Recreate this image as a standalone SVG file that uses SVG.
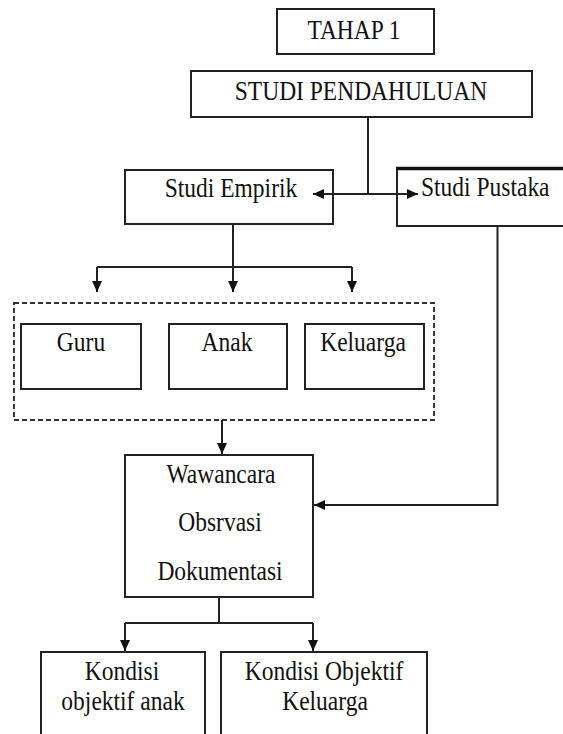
<svg xmlns="http://www.w3.org/2000/svg" width="563" height="734" viewBox="0 0 563 734">
<style>
.box{fill:#fff;stroke:#222;stroke-width:2}
.dash{fill:none;stroke:#333;stroke-width:2;stroke-dasharray:5 3}
.ln{fill:none;stroke:#222;stroke-width:2}
text{font-family:'Liberation Serif','Times New Roman',serif;font-size:23.5px;fill:#111;text-anchor:middle}
.ts{text-anchor:start}
</style>
<defs>
<marker id="ah" markerUnits="userSpaceOnUse" markerWidth="12" markerHeight="10" refX="11" refY="5" orient="auto">
<path d="M0,0 L11,5 L0,10 z" fill="#111"/>
</marker>
</defs>
<rect width="563" height="734" fill="#fff"/>
<g id="tahap1">
<rect class="box" x="277" y="9" width="157" height="45"/>
<g transform="translate(354,38.5) scale(1,1.15)"><text>TAHAP 1</text></g>
</g>
<g id="studi-pendahuluan">
<rect class="box" x="191" y="71" width="341" height="46"/>
<g transform="translate(361,100) scale(1,1.15)"><text>STUDI PENDAHULUAN</text></g>
</g>
<g id="studi-empirik">
<rect class="box" x="125" y="170" width="208" height="54"/>
<g transform="translate(231,196.5) scale(1,1.15)"><text>Studi Empirik</text></g>
</g>
<g id="studi-pustaka">
<rect class="box" x="397" y="168.5" width="180" height="57.5"/>
<line x1="396" y1="168.5" x2="563" y2="168.5" stroke="#111" stroke-width="3.5"/>
<g transform="translate(421,196) scale(1,1.15)"><text class="ts">Studi Pustaka</text></g>
</g>
<g id="group-sumber">
<rect class="dash" x="14" y="303" width="420" height="117"/>
</g>
<g id="guru">
<rect class="box" x="21" y="324" width="120" height="65"/>
<g transform="translate(81,351) scale(1,1.15)"><text>Guru</text></g>
</g>
<g id="anak">
<rect class="box" x="169" y="324" width="118" height="65"/>
<g transform="translate(227,351) scale(1,1.15)"><text>Anak</text></g>
</g>
<g id="keluarga">
<rect class="box" x="305" y="324" width="119" height="65"/>
<g transform="translate(363,351) scale(1,1.15)"><text>Keluarga</text></g>
</g>
<g id="metode">
<rect class="box" x="125" y="455" width="188" height="142"/>
<g transform="translate(221,483) scale(1,1.15)"><text>Wawancara</text></g>
<g transform="translate(220,531) scale(1,1.15)"><text>Obsrvasi</text></g>
<g transform="translate(220,580) scale(1,1.15)"><text>Dokumentasi</text></g>
</g>
<g id="kondisi-anak">
<rect class="box" x="41" y="652" width="164" height="100"/>
<g transform="translate(122,680) scale(1,1.15)"><text>Kondisi</text></g>
<g transform="translate(123,710) scale(1,1.15)"><text>objektif anak</text></g>
</g>
<g id="kondisi-keluarga">
<rect class="box" x="221" y="652" width="206" height="100"/>
<g transform="translate(324,680) scale(1,1.15)"><text>Kondisi Objektif</text></g>
<g transform="translate(325,710) scale(1,1.15)"><text>Keluarga</text></g>
</g>
<g id="connectors">
<path class="ln" d="M368,117 V194"/>
<path class="ln" d="M368,194 H313" marker-end="url(#ah)"/>
<path class="ln" d="M368,194 H418" marker-end="url(#ah)"/>
<path class="ln" d="M233,224 V267"/>
<path class="ln" d="M97,267 H352"/>
<path class="ln" d="M97,267 V292" marker-end="url(#ah)"/>
<path class="ln" d="M233,267 V292" marker-end="url(#ah)"/>
<path class="ln" d="M352,267 V292" marker-end="url(#ah)"/>
<path class="ln" d="M222,420 V454" marker-end="url(#ah)"/>
<path class="ln" d="M497.5,226 V505 H314" marker-end="url(#ah)"/>
<path class="ln" d="M219,597 V623"/>
<path class="ln" d="M125,623 H313"/>
<path class="ln" d="M125,623 V651" marker-end="url(#ah)"/>
<path class="ln" d="M313,623 V651" marker-end="url(#ah)"/>
</g>
</svg>
